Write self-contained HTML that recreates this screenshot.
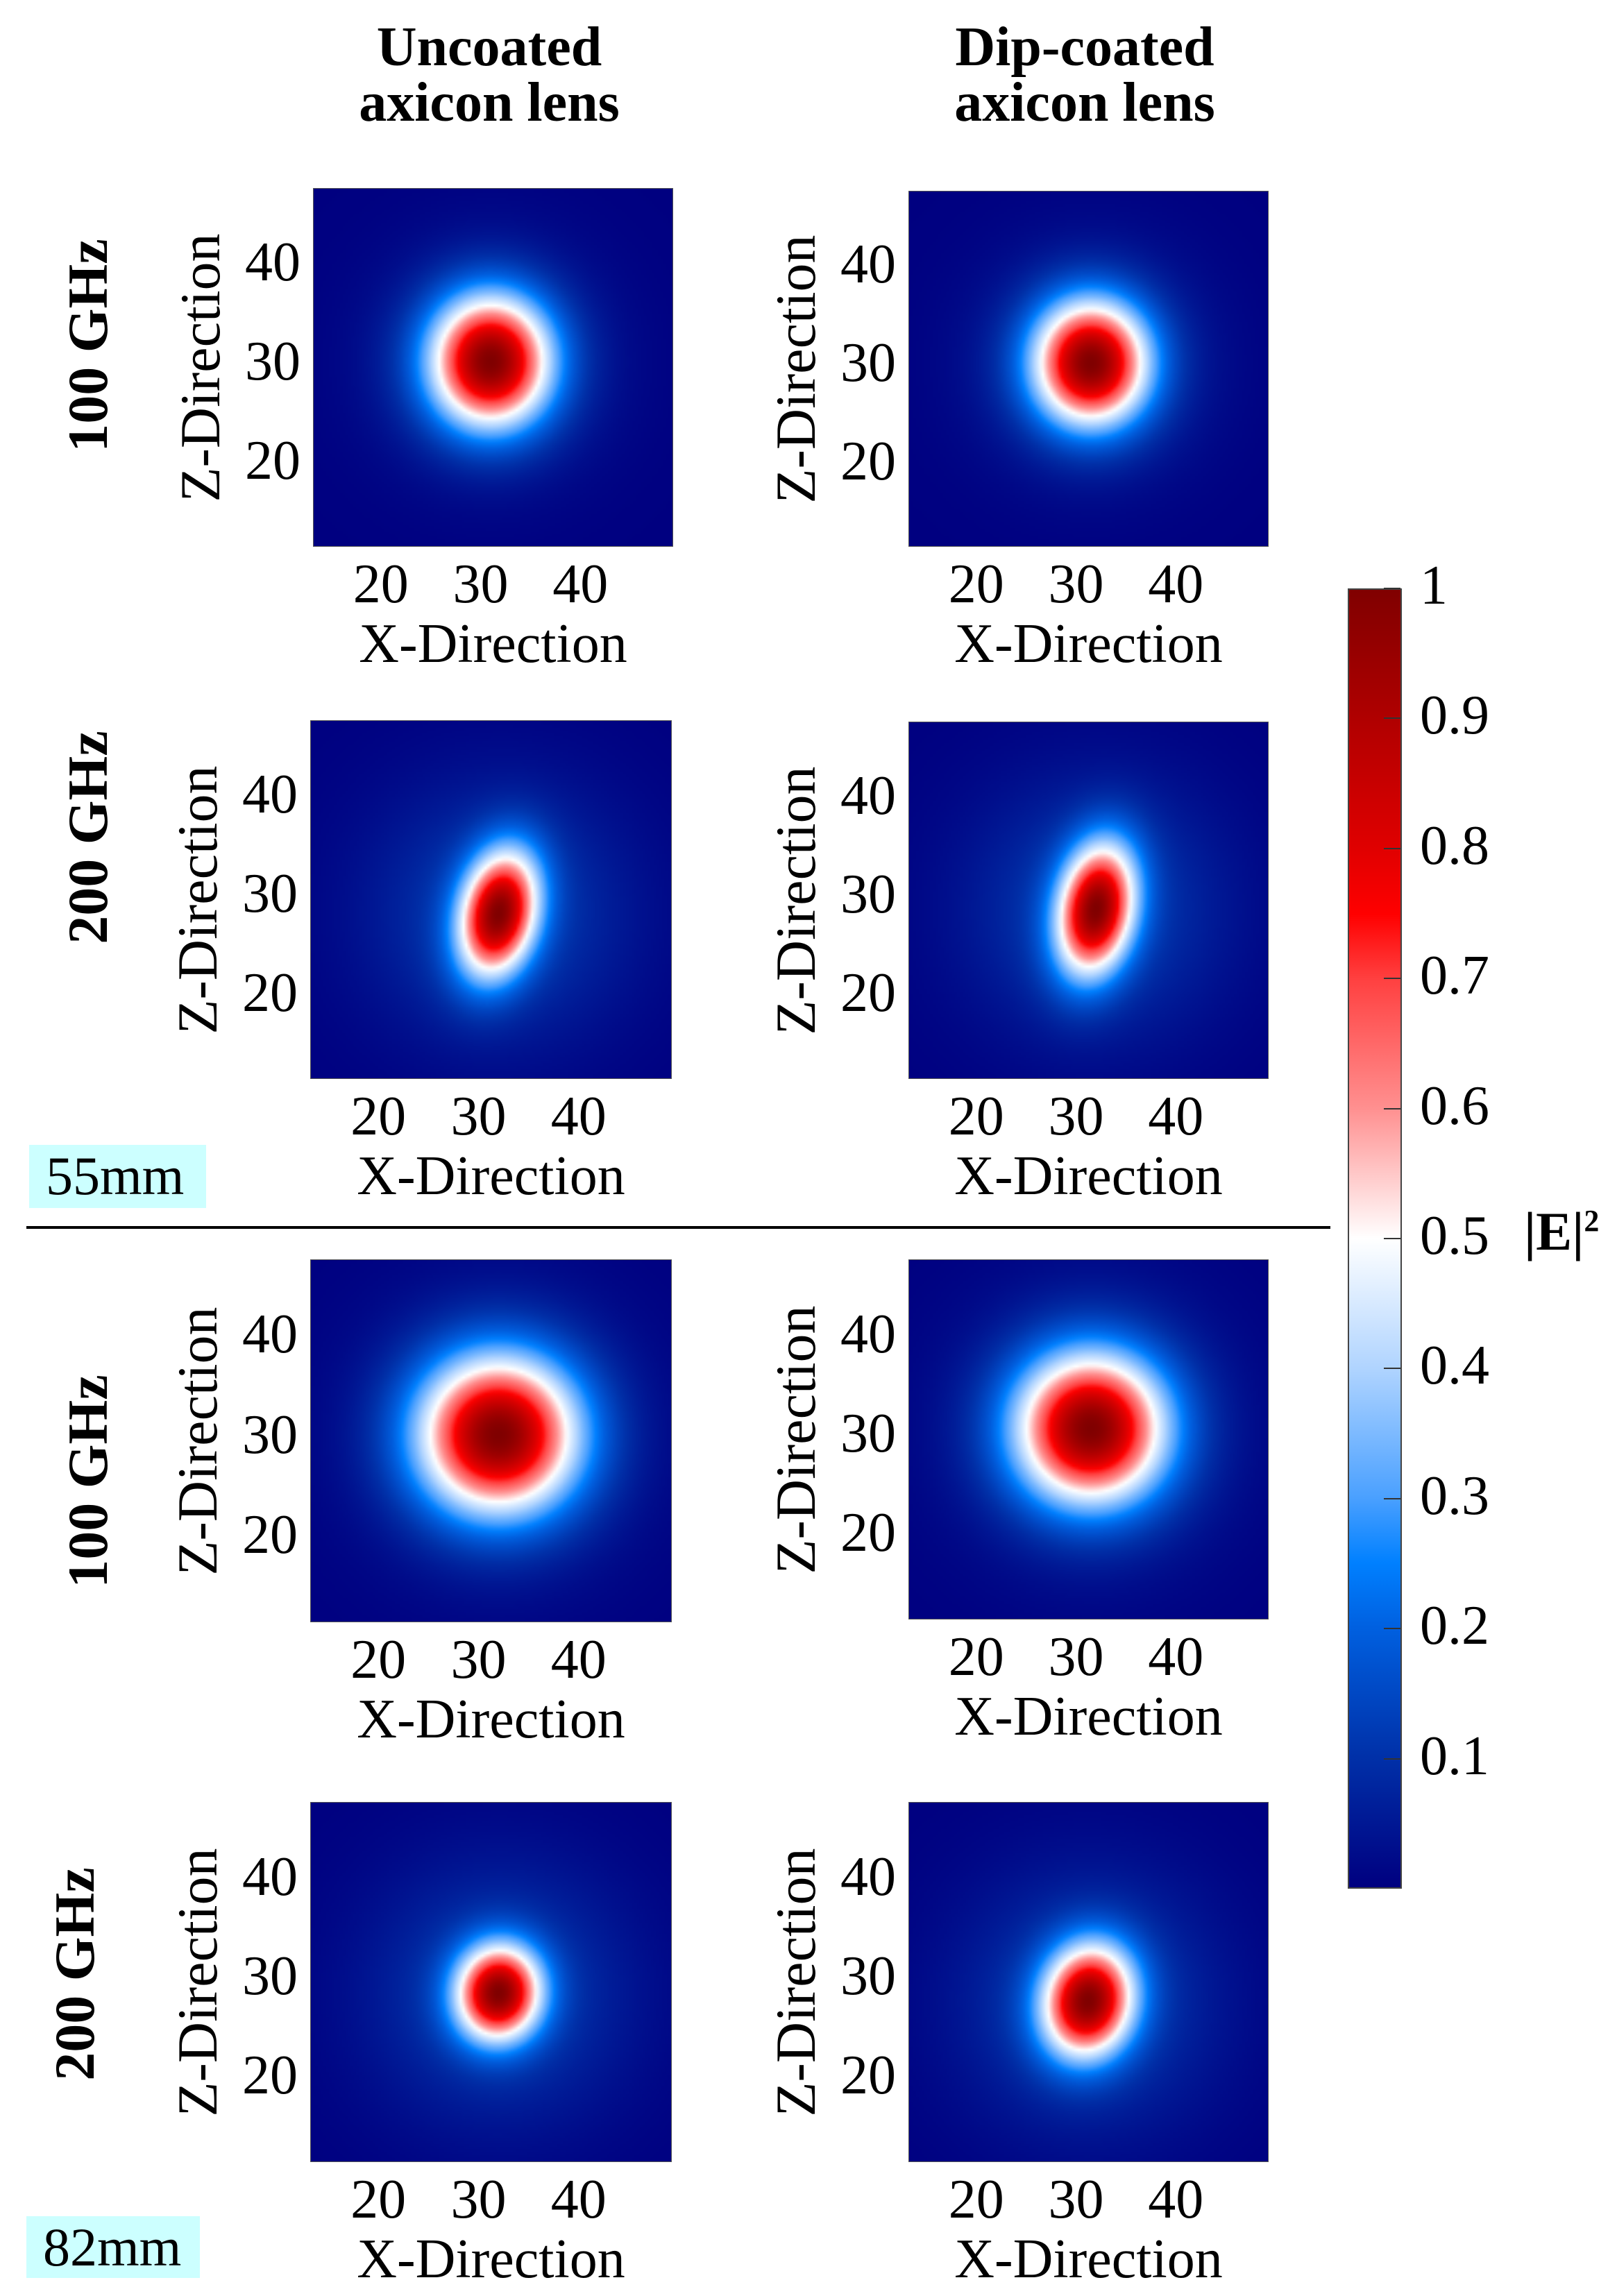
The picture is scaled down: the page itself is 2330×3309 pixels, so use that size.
<!DOCTYPE html>
<html><head><meta charset="utf-8">
<style>
html,body{margin:0;padding:0;background:#fff;}
body{width:2330px;height:3309px;position:relative;overflow:hidden;font-family:"Liberation Serif",serif;color:#000;}
.abs{position:absolute;}
.title{font-weight:bold;font-size:80px;text-align:center;line-height:80px;width:700px;}
.rowlab{font-weight:bold;font-size:82px;white-space:nowrap;transform:translate(-50%,-50%) rotate(-90deg);}
.zlab{font-size:82px;white-space:nowrap;transform:translate(-50%,-50%) rotate(-90deg);}
.tick{font-size:80px;line-height:80px;white-space:nowrap;}
canvas{position:absolute;border:1px solid #555;box-sizing:border-box;}
.dist{background:#ccffff;font-size:78px;line-height:90px;padding-left:24px;box-sizing:border-box;}
</style></head>
<body>
<div class="abs title" style="left:355px;top:28px">Uncoated<br>axicon lens</div>
<div class="abs title" style="left:1213px;top:28px">Dip-coated<br>axicon lens</div>

<div class="abs rowlab" style="left:127px;top:498px">100 GHz</div>
<div class="abs rowlab" style="left:127px;top:1207px">200 GHz</div>
<div class="abs rowlab" style="left:127px;top:2135px">100 GHz</div>
<div class="abs rowlab" style="left:108px;top:2845px">200 GHz</div>

<div class="abs dist" style="left:42px;top:1650px;width:255px;height:91px">55mm</div>
<div class="abs dist" style="left:38px;top:3194px;width:250px;height:89px">82mm</div>
<div class="abs" style="left:38px;top:1767px;width:1879px;height:4px;background:#000"></div>

<div id="cbar" class="abs" style="left:1942px;top:848px;width:78px;height:1874px;border:2px solid #444;box-sizing:border-box"></div>
<div class="abs" style="left:2196px;top:1730px;font-size:78px;font-weight:bold;white-space:nowrap">|E|<sup style="font-size:44px">2</sup></div>

<script>
// panel data: beam centers, widths (data units), tilt (deg), halo amplitude/width
const panelNames = ['uncoated-100ghz-55mm','coated-100ghz-55mm','uncoated-200ghz-55mm','coated-200ghz-55mm','uncoated-100ghz-82mm','coated-100ghz-82mm','uncoated-200ghz-82mm','coated-200ghz-82mm'];
const beamCX = [31, 31.5, 32, 32, 32, 31.5, 32, 31.2];
const beamCZ = [30, 30, 28, 28.5, 30, 30.5, 28.3, 27.5];
const beamSX = [4.1, 3.9, 2.6, 2.6, 5.4, 5.1, 2.9, 3.1];
const beamSZ = [4.5, 4.3, 4.4, 4.6, 5.3, 5.1, 3.3, 3.9];
const beamTilt = [0, 0, 12, 10, 0, 0, 8, 12];
const haloAmp = [0.12, 0.12, 0.13, 0.13, 0.12, 0.12, 0.13, 0.13];
const haloS = [7.5, 7.5, 9, 9, 9, 9, 9, 9];
const xTicks = [20, 30, 40];
const zTicks = [20, 30, 40];
const cbTicks = [0.1, 0.2, 0.3, 0.4, 0.5, 0.6, 0.7, 0.8, 0.9, 1];
const cbLabels = ['0.1','0.2','0.3','0.4','0.5','0.6','0.7','0.8','0.9','1'];
const xRange = [13.2, 49.3];
const zRange = [11.3, 47.5];

// layout (pixels)
const rects = [[451,271,519,517],[1309,275,519,513],[447,1038,521,517],[1309,1040,519,515],[447,1815,521,523],[1309,1815,519,519],[447,2597,521,519],[1309,2597,519,519]];

const stops = [[0,[0,0,128]],[0.1,[0,48,168]],[0.2,[0,96,224]],[0.25,[0,128,255]],[0.3,[74,160,255]],[0.4,[176,212,255]],[0.5,[255,255,255]],[0.6,[255,144,144]],[0.7,[255,64,64]],[0.75,[255,0,0]],[0.8,[224,0,0]],[0.9,[176,0,0]],[1,[128,0,0]]];
function cmap(v){
  v=Math.max(0,Math.min(1,v));
  for(let i=1;i<stops.length;i++){
    if(v<=stops[i][0]){const a=stops[i-1],b=stops[i];const t=(v-a[0])/(b[0]-a[0]);
      return [0,1,2].map(k=>Math.round(a[1][k]+(b[1][k]-a[1][k])*t));}
  }
  return stops[stops.length-1][1];
}
function field(i,x,z){
  const dx=x-beamCX[i],dz=z-beamCZ[i];
  const t=beamTilt[i]*Math.PI/180;
  const u=dx*Math.cos(t)-dz*Math.sin(t), v=dx*Math.sin(t)+dz*Math.cos(t);
  const m=Math.exp(-0.5*(u*u/(beamSX[i]*beamSX[i])+v*v/(beamSZ[i]*beamSZ[i])));
  const h=haloAmp[i]*Math.exp(-0.5*(dx*dx+dz*dz)/(haloS[i]*haloS[i]));
  return Math.min(1,m+h*(1-m));
}
function addText(txt,l,t,cls,name,extra){
  const d=document.createElement('div');
  d.className='abs '+cls;d.textContent=txt;
  d.style.left=l+'px';d.style.top=t+'px';
  if(extra)d.style.cssText+=extra;
  
  
  document.body.appendChild(d);return d;
}
panelNames.forEach((nm,i)=>{
  const [L,T,W,H]=rects[i];
  const sx=v=>L+(v-xRange[0])/(xRange[1]-xRange[0])*W;
  const sz=v=>T+H-(v-zRange[0])/(zRange[1]-zRange[0])*H;
  const c=document.createElement('canvas');
  
  
  const res=4;c.width=Math.ceil(W/res);c.height=Math.ceil(H/res);
  c.style.left=L+'px';c.style.top=T+'px';c.style.width=W+'px';c.style.height=H+'px';
  const ctx=c.getContext('2d');const img=ctx.createImageData(c.width,c.height);
  for(let py=0;py<c.height;py++)for(let px=0;px<c.width;px++){
    const x=xRange[0]+(px+0.5)/c.width*(xRange[1]-xRange[0]);
    const z=zRange[1]-(py+0.5)/c.height*(zRange[1]-zRange[0]);
    const col=cmap(field(i,x,z));const o=(py*c.width+px)*4;
    img.data[o]=col[0];img.data[o+1]=col[1];img.data[o+2]=col[2];img.data[o+3]=255;
  }
  ctx.putImageData(img,0,0);
  document.body.appendChild(c);
  xTicks.forEach(v=>{
    addText(String(v),sx(v)-50,T+H+14,'tick','x-tick-label','width:100px;text-align:center;');
  });
  zTicks.forEach(v=>{
    addText(String(v),L-130,sz(v)-40,'tick','z-tick-label','width:112px;text-align:right;');
  });
  addText('X-Direction',L+W/2-300,T+H+100,'tick','x-axis-title','width:600px;text-align:center;');
  addText('Z-Direction',L-162,T+H/2,'zlab','z-axis-title');
});
// colorbar gradient
const cb=document.getElementById('cbar');
cb.style.background='linear-gradient(to top,'+stops.map(s=>'rgb('+s[1].join(',')+') '+(s[0]*100)+'%').join(',')+')';
const cbTop=848,cbH=1874;
cbTicks.forEach((v,k)=>{
  const y=cbTop+cbH*(1-v);
  const tk=document.createElement('div');
  tk.className='abs';tk.style.cssText='left:1994px;top:'+(y-1)+'px;width:24px;height:2px;background:#333';
  
  
  document.body.appendChild(tk);
  addText(cbLabels[k],2046,y-44,'tick','colorbar-tick-label','');
});
</script>
</body></html>
